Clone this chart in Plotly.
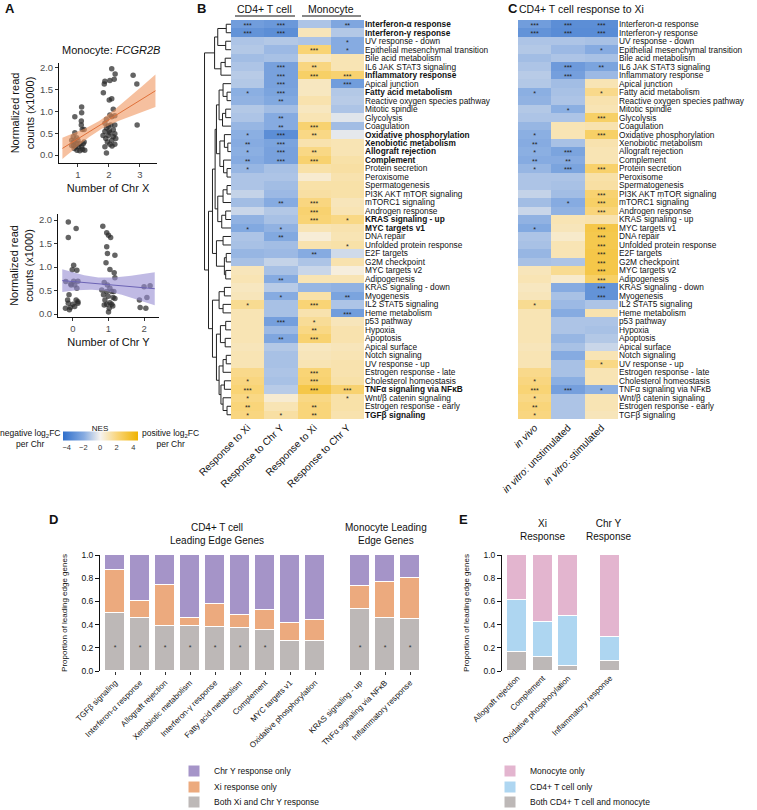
import numpy as np
import plotly.graph_objects as go

W, H = 757, 810
def px(x): return x / W
def py(y): return 1 - y / H

FONT = "Liberation Sans, Arial, sans-serif"

# ---------------- Panel A data ----------------
chrx_x = [0.90,1.12,1.12,1.11,1.11,1.14,1.20,0.90,0.85,0.96,0.80,0.90,1.00,1.06,0.86,0.92,1.02,1.12,1.17,1.20,0.97,1.06,0.88,0.80,1.22,1.15,0.97,0.86,
          2.09,2.20,2.17,2.03,1.87,1.85,1.82,2.01,2.09,2.14,2.03,2.09,2.19,1.92,1.87,1.98,2.06,2.19,1.92,2.14,1.87,2.03,2.19,1.98,2.14,1.90,2.09,2.22,1.95,2.03,2.19,1.87,2.10,1.92,1.81,2.01,
          2.78,2.90,2.91]
chrx_y = [0.88,1.10,0.97,0.78,0.69,0.59,0.59,0.51,0.42,0.40,0.34,0.30,0.34,0.26,0.22,0.19,0.19,0.19,0.26,0.30,0.11,0.10,0.15,0.22,0.11,0.13,0.26,0.30,
          1.98,1.86,1.74,1.71,1.69,1.63,1.43,1.26,1.29,1.05,0.92,0.88,0.90,0.82,0.73,0.67,0.69,0.69,0.62,0.58,0.54,0.51,0.49,0.45,0.42,0.38,0.34,0.38,0.30,0.25,0.25,0.19,0.21,0.05,0.45,0.56,
          1.83,1.63,0.69]
chry_x = [-0.13,-0.13,0.09,0.02,-0.02,0.11,-0.20,0.02,0.14,-0.05,0.05,0.11,-0.11,-0.15,0.09,0.14,-0.13,0.00,-0.21,-0.07,-0.10,0.05,0.14,-0.06,
          0.84,0.95,1.00,1.06,0.95,0.97,1.18,0.93,1.04,1.16,1.18,0.88,0.97,0.81,1.04,0.95,1.09,1.15,0.86,0.99,1.13,0.90,1.04,0.95,1.09,0.88,1.02,1.00,1.18,1.12,
          2.00,2.17,1.87,1.89,2.08,2.05]
chry_y = [1.96,1.63,1.82,1.04,0.94,0.93,0.69,0.70,0.70,0.62,0.62,0.55,0.41,0.30,0.30,0.26,0.23,0.21,0.12,0.14,0.09,0.16,0.23,0.64,
          1.87,1.73,1.68,1.63,1.43,1.29,1.25,1.09,0.95,0.88,0.77,0.67,0.62,0.51,0.55,0.48,0.48,0.48,0.41,0.38,0.35,0.30,0.24,0.21,0.21,0.19,0.12,0.04,0.33,0.17,
          0.58,0.60,0.30,0.14,0.35,0.12]
smooth_range_x = [0.5, 3.5]
smooth_range_y = [-0.3, 2.3]

# ---------------- Panels B / C data ----------------
pathways = ["Interferon-α response","Interferon-γ response","UV response - down","Epithelial mesenchymal transition",
    "Bile acid metabolism","IL6 JAK STAT3 signaling","Inflammatory response","Apical junction","Fatty acid metabolism",
    "Reactive oxygen species pathway","Mitotic spindle","Glycolysis","Coagulation","Oxidative phosphorylation",
    "Xenobiotic metabolism","Allograft rejection","Complement","Protein secretion","Peroxisome","Spermatogenesis",
    "PI3K AKT mTOR signaling","mTORC1 signaling","Androgen response","KRAS signaling - up","MYC targets v1",
    "DNA repair","Unfolded protein response","E2F targets","G2M checkpoint","MYC targets v2","Adipogenesis",
    "KRAS signaling - down","Myogenesis","IL2 STAT5 signaling","Heme metabolism","p53 pathway","Hypoxia",
    "Apoptosis","Apical surface","Notch signaling","UV response - up","Estrogen response - late",
    "Cholesterol homeostasis","TNFα signaling via NFκB","Wnt/β catenin signaling","Estrogen response - early",
    "TGFβ signaling"]
bold_pathways = ["Interferon-α response","Interferon-γ response","Inflammatory response","Fatty acid metabolism",
    "Oxidative phosphorylation","Xenobiotic metabolism","Allograft rejection","Complement","KRAS signaling - up",
    "MYC targets v1","TNFα signaling via NFκB","TGFβ signaling"]

b_columns = ["Response to Xi", "Response to Chr Y", "Response to Xi", "Response to Chr Y"]
c_columns = ["<i>in vivo</i>", "<i>in vitro</i>: unstimulated", "<i>in vitro</i>: stimulated"]

t_xi = [-2.6,-3.0,-1.3,-1.2,-1.5,-1.3,-1.1,-1.2,-1.9,-1.8,-1.2,-1.3,-1.7,-1.9,-2.0,-1.9,-2.0,-1.7,-1.3,-1.3,-0.9,-1.5,-0.8,-1.8,-2.1,
        -1.3,-1.4,-1.7,-1.4,0.9,1.0,0.8,0.9,1.6,1.0,1.0,1.0,1.0,0.9,1.0,1.0,1.7,1.9,2.1,1.8,2.0,1.9]
t_y = [-2.8,-3.2,-1.2,-1.6,-1.4,-2.4,-2.4,-2.4,-2.3,-2.1,-1.5,-2.0,-2.0,-3.2,-2.3,-2.4,-2.4,-1.4,-1.3,-1.5,-1.6,-2.0,-1.2,-1.4,-1.8,
       -2.1,-1.5,-1.6,-0.9,-1.4,-2.0,-1.1,-2.0,-1.4,-1.4,-2.5,-1.6,-2.2,-1.2,-1.4,-1.4,-1.3,-1.4,-1.1,0.5,1.0,1.3]
m_xi = [-1.3,0.9,-1.3,2.1,0.7,1.9,2.4,0.8,0.8,1.1,0.8,1.0,2.2,1.8,1.1,1.8,2.2,1.2,0.5,1.2,1.3,1.9,2.2,2.1,1.0,
        0.4,1.1,-2.0,-1.3,-0.8,1.0,-1.7,1.2,2.1,1.1,1.5,1.8,2.2,0.8,0.9,1.0,2.1,2.2,3.0,1.8,2.0,2.0]
m_y = [-2.2,-1.2,-2.0,-2.0,1.0,1.0,2.2,-2.6,-1.2,-1.1,-1.3,-0.4,-1.5,-0.3,1.0,1.0,1.2,1.3,1.1,1.2,1.2,0.9,1.0,1.8,1.1,
       1.0,1.2,-0.7,1.1,0.3,1.0,-1.8,-2.3,-1.3,-2.6,0.9,1.1,1.1,0.9,1.0,1.1,1.1,1.2,2.2,1.2,1.2,1.1]
vitro_unstim = [-3.2,-3.3,-1.3,-1.6,-1.3,-2.7,-2.5,-1.5,-1.4,-1.3,-1.9,-1.3,1.0,1.0,-1.4,-2.3,-2.0,-2.3,-1.3,-1.4,-1.5,-2.0,-1.8,1.0,0.9,
                0.6,1.0,1.0,-1.3,1.6,0.6,-2.0,-1.4,-1.6,-2.0,-1.3,-1.3,-1.7,-1.4,-2.0,-1.4,-1.4,-1.9,-2.5,-1.3,-1.3,-1.3]
vitro_stim = [-3.2,-3.3,-1.4,-2.0,-1.4,-2.3,-1.6,1.0,1.7,1.1,1.0,2.4,1.1,2.4,1.1,1.0,1.0,2.3,1.2,1.3,2.2,2.4,2.0,1.1,3.0,
              2.9,2.9,3.0,3.0,3.0,2.4,-3.0,-3.0,-1.3,1.1,-1.3,-1.4,-1.2,-0.8,1.0,1.8,1.0,1.0,-1.9,1.0,1.0,0.9]

t_xi_sig = ["***","***","","","","","","","*","","","","","*","**","*","**","*","","","","","","","*",
            "","","","","","","","","*","","","","","","","","","*","***","*","**","*"]
t_y_sig = ["***","***","","","","***","***","***","***","**","","**","**","***","***","***","***","","","","","**","","","*",
           "**","","","","","**","","*","","","***","","**","","","","","","","","","*"]
m_xi_sig = ["","","","***","","**","***","","","","","","***","**","","**","***","","","","","***","***","***","",
            "","","**","","","","","","***","","*","**","***","","","","***","***","***","","**","**"]
m_y_sig = ["**","","*","*","","","***","***","","","","","","","","","","","","","","","","*","",
           "","*","","","","","","**","","***","","","","","","","","","***","*","",""]
vitro_unstim_sig = ["***","***","","","","***","***","","","","*","","","","","***","**","***","","","","*","","","",
                    "","","","","","","","","","","","","","","","","","","***","","",""]
vitro_stim_sig = ["***","***","","*","","**","","","*","","","***","","***","","","","***","","","***","***","***","","***",
                  "***","***","***","***","***","***","***","***","","","","","","","","*","","","*","","",""]

# dendrogram: (merge height, left, right); leaves are row indices
dendro_tree = (1.0,
    (0.62, (0.5, (0.18, 0, 1), (0.2, 2, 3)), (0.38, (0.22, 4, 5), 6)),
    (0.85,
        (0.7,
            (0.6,
                (0.55, (0.45, (0.3, 7, (0.15, 8, 9)), (0.32, (0.2, 10, 11), 12)),
                       (0.42, (0.25, 13, (0.12, 14, 15)), (0.28, 16, (0.15, 17, 18)))),
                (0.5, (0.3, (0.15, 19, 20), 21), (0.35, (0.2, 22, 23), 24))),
            (0.55, (0.3, 25, 26), (0.25, (0.18, 27, 28), (0.2, 29, 30)))),
        (0.7, (0.45, (0.25, 31, 32), (0.3, 33, 34)),
              (0.55, (0.4, (0.2, 35, 36), (0.22, 37, 38)),
                     (0.45, (0.3, (0.18, 39, 40), 41), (0.38, (0.25, 42, 43), (0.3, 44, (0.15, 45, 46))))))))

# ---------------- Panel D / E data ----------------
d_labels = ["TGFβ signaling","Interferon-α response","Allograft rejection","Xenobiotic metabolism",
            "Interferon-γ response","Fatty acid metabolism","Complement","MYC targets v1",
            "Oxidative phosphorylation","KRAS signaling - up","TNFα signaling via NFκB","Inflammatory response"]
d_both = [0.50,0.46,0.39,0.39,0.38,0.375,0.35,0.255,0.255,0.535,0.455,0.445]
d_xi_only = [0.375,0.14,0.355,0.07,0.20,0.11,0.18,0.16,0.185,0.20,0.315,0.36]
d_y_only = [0.125,0.40,0.255,0.54,0.42,0.515,0.47,0.585,0.56,0.265,0.23,0.195]
d_sig = ["*","*","*","*","*","*","*","","","*","*","*"]
d_pos = [0,1,2,3,4,5,6,7,8,9.8,10.8,11.8]

e_labels = ["Allograft rejection","Complement","Oxidative phosphorylation","Inflammatory response"]
e_both = [0.16,0.12,0.045,0.09]
e_cd4_only = [0.455,0.30,0.425,0.205]
e_mono_only = [0.385,0.58,0.53,0.705]
e_pos = [0,1,2,3.65]

# ---------------- build figure ----------------
fig = go.Figure()

PT = "rgba(40,40,40,0.72)"
def smooth(xs, ys, rng):
    xs = np.asarray(xs); ys = np.asarray(ys)
    b, a = np.polyfit(xs, ys, 1)
    n = len(xs)
    s = np.sqrt(np.sum((ys - (a + b * xs)) ** 2) / (n - 2))
    g = np.linspace(rng[0], rng[1], 60)
    se = s * np.sqrt(1 / n + (g - xs.mean()) ** 2 / np.sum((xs - xs.mean()) ** 2))
    f = a + b * g
    return g, f, f - 1.99 * se, f + 1.99 * se

for xs, ys, rng, ax, band, line in [
        (chrx_x, chrx_y, smooth_range_x, ("x", "y"), "rgba(240,150,95,0.6)", "#E0713A"),
        (chry_x, chry_y, smooth_range_y, ("x2", "y2"), "rgba(150,140,210,0.6)", "#6C63B5")]:
    g, f, lo, hi = smooth(xs, ys, rng)
    fig.add_trace(go.Scatter(x=xs, y=ys, mode="markers", marker=dict(color=PT, size=5.5),
                             xaxis=ax[0], yaxis=ax[1], showlegend=False, hoverinfo="skip"))
    fig.add_trace(go.Scatter(x=np.concatenate([g, g[::-1]]), y=np.concatenate([hi, lo[::-1]]),
                             fill="toself", fillcolor=band, line=dict(width=0), mode="lines",
                             xaxis=ax[0], yaxis=ax[1], showlegend=False, hoverinfo="skip"))
    fig.add_trace(go.Scatter(x=g, y=f, mode="lines", line=dict(color=line, width=1),
                             xaxis=ax[0], yaxis=ax[1], showlegend=False, hoverinfo="skip"))

# heatmaps
CS = [[0.0, "#2F6FCB"], [0.278, "#86ABE1"], [0.5, "#F6F3EE"], [0.722, "#F9D57A"], [1.0, "#EFB300"]]
ZMIN, ZMAX = -4.5, 4.5
rows = list(range(len(pathways)))
zb = np.column_stack([t_xi, t_y, m_xi, m_y])
zc = np.column_stack([t_xi, vitro_unstim, vitro_stim])
fig.add_trace(go.Heatmap(z=zb, x=[0, 1, 2, 3], y=rows, colorscale=CS, zmin=ZMIN, zmax=ZMAX,
                         xaxis="x3", yaxis="y3", hoverinfo="skip", showscale=True,
                         colorbar=dict(orientation="h", x=px(100), xanchor="center", y=py(436), yanchor="middle",
                                       len=75, lenmode="pixels", thickness=9, thicknessmode="pixels",
                                       xpad=0, ypad=0, outlinewidth=0, ticks="",
                                       tickvals=[-4, -2, 0, 2, 4], ticktext=["−4", "−2", "0", "2", "4"],
                                       tickfont=dict(size=7.5, family=FONT, color="#333"),
                                       title=dict(text="NES", side="top", font=dict(size=8, family=FONT)))))
fig.add_trace(go.Heatmap(z=zc, x=[0, 1, 2], y=rows, colorscale=CS, zmin=ZMIN, zmax=ZMAX,
                         xaxis="x4", yaxis="y4", hoverinfo="skip", showscale=False))

def star_trace(sig_cols, ax):
    xs, ys, ts = [], [], []
    for j, col in enumerate(sig_cols):
        for i, s in enumerate(col):
            if s:
                xs.append(j); ys.append(i + 0.22); ts.append(s)
    return go.Scatter(x=xs, y=ys, text=ts, mode="text", textposition="middle center",
                      textfont=dict(size=7, color="#222", family=FONT), xaxis=ax[0], yaxis=ax[1],
                      showlegend=False, hoverinfo="skip")

fig.add_trace(star_trace([t_xi_sig, t_y_sig, m_xi_sig, m_y_sig], ("x3", "y3")))
fig.add_trace(star_trace([t_xi_sig, vitro_unstim_sig, vitro_stim_sig], ("x4", "y4")))

# dendrogram
dx, dy = [], []
def walk(node):
    if isinstance(node, int):
        return float(node), 0.0
    h, l, r = node
    yl, hl = walk(l)
    yr, hr = walk(r)
    dx.extend([hl, h, h, hr, None]); dy.extend([yl, yl, yr, yr, None])
    return (yl + yr) / 2, h
walk(dendro_tree)
fig.add_trace(go.Scatter(x=dx, y=dy, mode="lines", line=dict(color="#222", width=1),
                         xaxis="x5", yaxis="y5", showlegend=False, hoverinfo="skip"))

# bars D
for name, vals, col, lg in [("Both Xi and Chr Y response", d_both, "#BDB8B7", "legend3"),
                            ("Xi response only", d_xi_only, "#ECAA7E", "legend2"),
                            ("Chr Y response only", d_y_only, "#A594C8", "legend")]:
    fig.add_trace(go.Bar(x=d_pos, y=vals, width=0.8, name=name, marker=dict(color=col, line=dict(color="white", width=1)),
                         xaxis="x6", yaxis="y6", legend=lg, hoverinfo="skip"))
fig.add_trace(go.Scatter(x=d_pos, y=[0.2] * len(d_pos), text=d_sig, mode="text", textfont=dict(size=7, color="#333"),
                         xaxis="x6", yaxis="y6", showlegend=False, hoverinfo="skip"))
for name, vals, col, lg in [("Both CD4+ T cell and monocyte", e_both, "#BDB8B7", "legend6"),
                            ("CD4+ T cell only", e_cd4_only, "#AED6F1", "legend5"),
                            ("Monocyte only", e_mono_only, "#E3B5CF", "legend4")]:
    fig.add_trace(go.Bar(x=e_pos, y=vals, width=0.8, name=name, marker=dict(color=col, line=dict(color="white", width=1)),
                         xaxis="x7", yaxis="y7", legend=lg, hoverinfo="skip"))

# ---------------- axes ----------------
tick_font = dict(size=9.5, color="#4D4D4D", family=FONT)
title_font = dict(size=11, color="#111", family=FONT)
common_sc = dict(showline=True, linecolor="#111", linewidth=1, ticks="outside", ticklen=3, tickcolor="#333",
                 showgrid=False, zeroline=False, tickfont=tick_font)

def legend_at(x, y):
    return dict(x=px(x), y=py(y), xanchor="left", yanchor="middle",
                font=dict(size=8.5, family=FONT, color="#111"), bgcolor="rgba(0,0,0,0)")

fig.update_layout(
    xaxis=dict(domain=[px(59), px(157)], range=[0.39, 3.55], anchor="y", tickvals=[1, 2, 3],
               title=dict(text="Number of Chr X", font=title_font, standoff=4), **common_sc),
    yaxis=dict(domain=[py(163), py(63)], range=[-0.18, 2.11], anchor="x", tickvals=[0, 0.5, 1, 1.5, 2],
               tickformat=".1f", title=dict(text="Normalized read<br>counts (x1000)", font=title_font, standoff=3), **common_sc),
    xaxis2=dict(domain=[px(58), px(159)], range=[-0.42, 2.42], anchor="y2", tickvals=[0, 1, 2],
                title=dict(text="Number of Chr Y", font=title_font, standoff=4), **common_sc),
    yaxis2=dict(domain=[py(317), py(214)], range=[-0.064, 2.13], anchor="x2", tickvals=[0, 0.5, 1, 1.5, 2],
                tickformat=".1f", title=dict(text="Normalized read<br>counts (x1000)", font=title_font, standoff=3), **common_sc),
    xaxis3=dict(domain=[px(231), px(364)], range=[-0.5, 3.5], anchor="y3", tickvals=[0, 1, 2, 3], ticktext=b_columns,
                tickangle=-45, ticks="", showgrid=False, zeroline=False, tickfont=dict(size=10, color="#111", family=FONT)),
    yaxis3=dict(domain=[py(419), py(20)], range=[46.5, -0.5], anchor="x3", side="right", tickvals=rows,
                ticktext=[f"<b>{p}</b>" if p in bold_pathways else p for p in pathways],
                ticks="", showgrid=False, zeroline=False, tickfont=dict(size=8.3, color="#111", family=FONT)),
    xaxis4=dict(domain=[px(518), px(618)], range=[-0.5, 2.5], anchor="y4", tickvals=[0, 1, 2], ticktext=c_columns,
                tickangle=-45, ticks="", showgrid=False, zeroline=False, tickfont=dict(size=10, color="#111", family=FONT)),
    yaxis4=dict(domain=[py(419), py(20)], range=[46.5, -0.5], anchor="x4", side="right", tickvals=rows,
                ticktext=pathways, ticks="", showgrid=False, zeroline=False,
                tickfont=dict(size=8.3, color="#111", family=FONT)),
    xaxis5=dict(domain=[px(204), px(231)], range=[1.02, 0], anchor="y5", visible=False),
    yaxis5=dict(domain=[py(419), py(20)], range=[46.5, -0.5], anchor="x5", visible=False),
    xaxis6=dict(domain=[px(100), px(420)], range=[-0.6, 12.2], anchor="y6", tickvals=d_pos, ticktext=d_labels,
                tickangle=-45, ticks="outside", ticklen=3, tickcolor="#333", showgrid=False, zeroline=False,
                tickfont=dict(size=8, color="#111", family=FONT)),
    yaxis6=dict(domain=[py(671), py(555)], range=[0, 1.0], anchor="x6", tickvals=[0, 0.2, 0.4, 0.6, 0.8, 1.0],
                tickformat=".1f", showline=True, linecolor="#111", ticks="outside", ticklen=4, tickcolor="#111",
                showgrid=False, zeroline=False, tickfont=dict(size=8.5, color="#111", family=FONT),
                title=dict(text="Proportion of leading edge genes", font=dict(size=8, color="#111", family=FONT), standoff=12)),
    xaxis7=dict(domain=[px(502), px(624)], range=[-0.6, 4.2], anchor="y7", tickvals=e_pos, ticktext=e_labels,
                tickangle=-45, ticks="", showgrid=False, zeroline=False,
                tickfont=dict(size=8, color="#111", family=FONT)),
    yaxis7=dict(domain=[py(671), py(555)], range=[0, 1.0], anchor="x7", tickvals=[0, 0.2, 0.4, 0.6, 0.8, 1.0],
                tickformat=".1f", showline=True, linecolor="#111", ticks="outside", ticklen=4, tickcolor="#111",
                showgrid=False, zeroline=False, tickfont=dict(size=8.5, color="#111", family=FONT),
                title=dict(text="Proportion of leading edge genes", font=dict(size=8, color="#111", family=FONT), standoff=12)),
    barmode="stack", bargap=0,
    legend=legend_at(174, 771), legend2=legend_at(174, 787), legend3=legend_at(174, 802),
    legend4=legend_at(490, 771), legend5=legend_at(490, 787), legend6=legend_at(490, 802),
    width=W, height=H, margin=dict(l=0, r=0, t=0, b=0, autoexpand=False),
    paper_bgcolor="white", plot_bgcolor="white", font=dict(family=FONT, color="#111"),
)

# ---------------- annotations / shapes ----------------
ann = []
def A(text, x, y, size=10, xa="center", ya="middle", **kw):
    ann.append(dict(text=text, x=px(x), y=py(y), xref="paper", yref="paper", xanchor=xa, yanchor=ya,
                    showarrow=False, font=dict(size=size, family=FONT, color="#111"), **kw))

for letter, x, y in [("A", 3, 9), ("B", 195, 9), ("C", 506, 9), ("D", 47, 519), ("E", 457, 519)]:
    A(f"<b>{letter}</b>", x, y, size=13, xa="left")
A("Monocyte: <i>FCGR2B</i>", 111, 50, size=11)
A("CD4+ T cell", 264, 9, size=10.5)
A("Monocyte", 331, 9, size=10.5)
A("CD4+ T cell response to Xi", 517, 9, size=10.5, xa="left")
A("negative log<sub>2</sub>FC<br>per Chr", 30, 438, size=8.5, align="center")
A("positive log<sub>2</sub>FC<br>per Chr", 170, 438, size=8.5, align="center")
A("CD4+ T cell<br>Leading Edge Genes", 217, 534, size=10)
A("Monocyte Leading<br>Edge Genes", 386, 534, size=10)
A("Xi<br>Response", 542, 530, size=10)
A("Chr Y<br>Response", 608, 530, size=10)

shapes = [dict(type="line", xref="paper", yref="paper", x0=px(235), x1=px(295), y0=py(16), y1=py(16),
               line=dict(color="#111", width=1)),
          dict(type="line", xref="paper", yref="paper", x0=px(302), x1=px(361), y0=py(16), y1=py(16),
               line=dict(color="#111", width=1))]
fig.update_layout(annotations=ann, shapes=shapes)

fig.write_html("out.html", config={"displayModeBar": False},
               post_script="document.body.style.margin='0';")
